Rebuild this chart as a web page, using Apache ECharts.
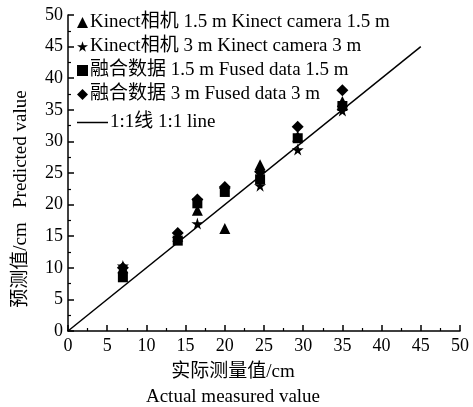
<!DOCTYPE html>
<html><head><meta charset="utf-8">
<script src="https://cdn.jsdelivr.net/npm/echarts@6/dist/echarts.min.js"></script>
<style>html,body{margin:0;padding:0;background:#fff}#c{width:473px;height:407px}</style>
</head><body><div id="c"></div>
<script>
const xTicks = [0,5,10,15,20,25,30,35,40,45,50];
const kinect15 = [[7,10.0],[14,15.0],[16.5,19.1],[20,16.2],[24.5,26.3],[29.3,30.8],[35,36.3]];
const kinect3  = [[7,10.3],[14,14.6],[16.5,17.0],[20,22.4],[24.5,23.0],[29.3,28.7],[35,34.9]];
const fused15  = [[7,8.5],[14,14.3],[16.5,20.2],[20,22.0],[24.5,24.0],[29.3,30.5],[35,35.6]];
const fused3   = [[7,10.0],[14,15.5],[16.5,20.8],[20,22.8],[24.5,25.2],[29.3,32.3],[35,38.1]];
const oneLine  = [[0,0],[45,45]];
const names = ['Kinect相机 1.5 m Kinect camera 1.5 m','Kinect相机 3 m Kinect camera 3 m','融合数据 1.5 m Fused data 1.5 m','融合数据 3 m Fused data 3 m','1:1线 1:1 line'];
const FONT = "'Liberation Serif','Noto Sans CJK SC',serif";
const STAR = 'path://M50,0 L61,35 L98,35 L68,57 L79,91 L50,70 L21,91 L32,57 L2,35 L39,35 Z';
const chart = echarts.init(document.getElementById('c'));
const axisCommon = {
  min:0, max:50, interval:5,
  axisLine:{lineStyle:{color:'#000',width:1.5}},
  axisTick:{inside:true,length:6,lineStyle:{color:'#000',width:1.5}},
  minorTick:{show:true,splitNumber:2,length:3,lineStyle:{color:'#000',width:1.2}},
  splitLine:{show:false},
  axisLabel:{color:'#000',fontFamily:FONT,fontSize:18},
};
const sc = (name,data,symbol,size)=>({type:'scatter',name,data,symbol,symbolSize:size,itemStyle:{color:'#000',opacity:1},z:3});
chart.setOption({
  animation:false,
  grid:{left:68,right:13,top:15,bottom:76,outerBoundsMode:'none',containLabel:false},
  xAxis:Object.assign({},axisCommon,{type:'value',name:'实际测量值/cm\nActual measured value',nameLocation:'middle',nameGap:27,
    axisLabel:{color:'#000',fontFamily:FONT,fontSize:18,margin:6},
    nameTextStyle:{color:'#000',fontFamily:FONT,fontSize:19,lineHeight:25,padding:[0,62,0,0]}}),
  yAxis:Object.assign({},axisCommon,{type:'value',name:'预测值/cm   Predicted value',nameLocation:'middle',nameGap:37,nameRotate:90,
    axisLabel:{color:'#000',fontFamily:FONT,fontSize:18,margin:5},
    nameTextStyle:{color:'#000',fontFamily:FONT,fontSize:19,padding:[0,52,0,0]}}),
  legend:[{
    data:names.slice(0,4),orient:'vertical',left:72,top:8,itemWidth:11,itemHeight:11,itemGap:5,
    textStyle:{color:'#000',fontFamily:FONT,fontSize:19,padding:[0,0,0,-3]}
  },{
    data:[{name:names[4],icon:'rect'}],orient:'vertical',left:72,top:108,itemWidth:31,itemHeight:1.5,itemGap:5,
    textStyle:{color:'#000',fontFamily:FONT,fontSize:19,padding:[0,0,0,-3]}
  }],
  series:[
    sc(names[0],kinect15,'triangle',11),
    sc(names[1],kinect3,STAR,12),
    sc(names[2],fused15,'rect',10),
    sc(names[3],fused3,'diamond',12),
    {type:'line',name:names[4],data:oneLine,symbol:'none',lineStyle:{color:'#000',width:1.5},itemStyle:{color:'#000'},z:2}
  ]
});
</script></body></html>
